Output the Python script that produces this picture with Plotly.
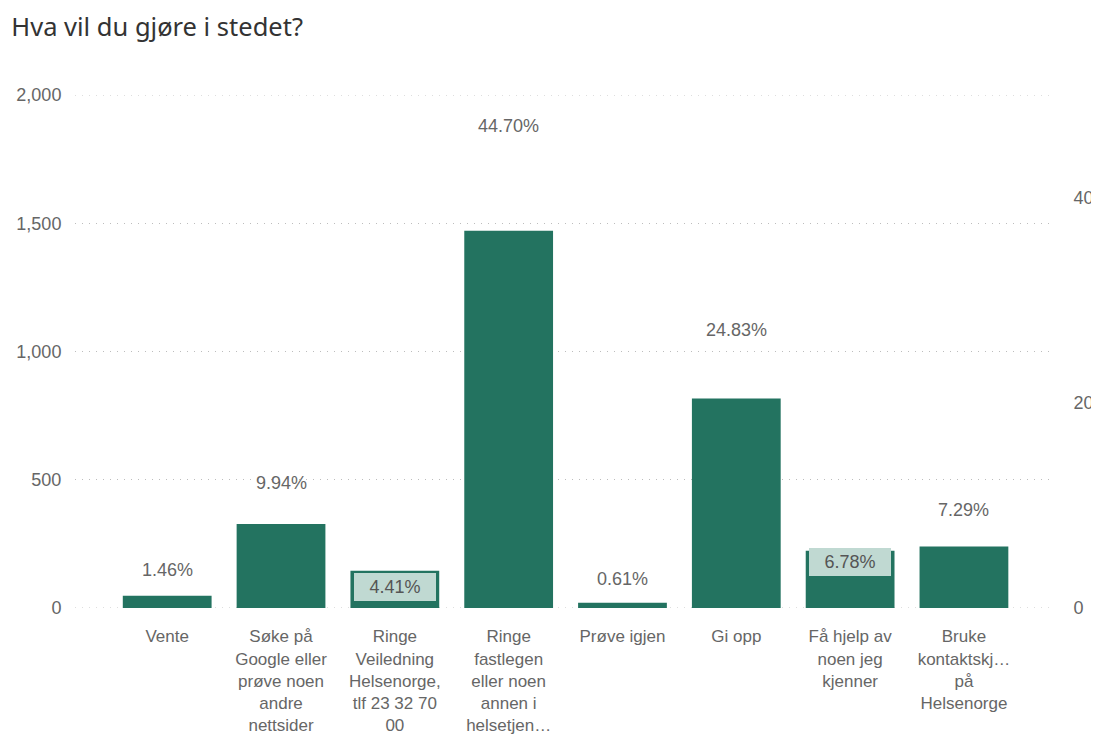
import plotly.graph_objects as go

categories = [
    "Vente",
    "Søke på<br>Google eller<br>prøve noen<br>andre<br>nettsider",
    "Ringe<br>Veiledning<br>Helsenorge,<br>tlf 23 32 70<br>00",
    "Ringe<br>fastlegen<br>eller noen<br>annen i<br>helsetjen…",
    "Prøve igjen",
    "Gi opp",
    "Få hjelp av<br>noen jeg<br>kjenner",
    "Bruke<br>kontaktskj…<br>på<br>Helsenorge",
]
counts = [48, 327, 145, 1471, 20, 817, 223, 240]
percents = [1.46, 9.94, 4.41, 44.70, 0.61, 24.83, 6.78, 7.29]
label_inside = [False, False, True, False, False, False, True, False]
left_ticks = [0, 500, 1000, 1500, 2000]
right_ticks = [0, 20, 40]

bar_color = "#237360"
text_color = "#666666"
grid_color = "#bdbdbd"
font_family = "Liberation Sans, Arial, sans-serif"

xs = list(range(len(categories)))

fig = go.Figure()
fig.add_trace(go.Bar(
    x=xs, y=counts, marker=dict(color=bar_color, line=dict(width=0)),
    width=0.78, hoverinfo="skip", yaxis="y",
))
fig.add_trace(go.Scatter(
    x=xs, y=percents, mode="markers", marker=dict(opacity=0),
    hoverinfo="skip", yaxis="y2", showlegend=False,
))

annotations = []
for x, p, inside in zip(xs, percents, label_inside):
    txt = f"{p:.2f}%"
    if inside:
        annotations.append(dict(
            x=x, y=p, xref="x", yref="y2", text=txt, showarrow=False,
            yshift=-24, font=dict(family=font_family, size=18, color="#555555"),
            bgcolor="#c0d9d2", bordercolor="#c0d9d2", borderwidth=0,
            width=80, height=26, align="center", valign="middle",
        ))
    else:
        annotations.append(dict(
            x=x, y=p, xref="x", yref="y2", text=txt, showarrow=False,
            yshift=23, font=dict(family=font_family, size=18, color=text_color),
        ))

# dotted gridlines at the axis edges (0 and 2000), which plotly omits
shapes = []
for v in (left_ticks[0], left_ticks[-1]):
    shapes.append(dict(
        type="line", xref="paper", yref="y", x0=0, x1=1, y0=v, y1=v,
        line=dict(color=grid_color, width=1, dash="1px,6px"), layer="below",
    ))

fig.update_layout(
    width=1099, height=734,
    margin=dict(l=67, r=52, t=87, b=134, autoexpand=False),
    paper_bgcolor="white", plot_bgcolor="white",
    showlegend=False,
    bargap=0.22,
    title=dict(
        text="Hva vil du gjøre i stedet?", x=0.003, xanchor="left",
        y=0.974, yanchor="middle",
        font=dict(family="Noto Sans, Open Sans, sans-serif", size=25.5, color="#333333"),
    ),
    xaxis=dict(
        tickmode="array", tickvals=xs, ticktext=categories,
        range=[-0.81, 7.8], showgrid=False, zeroline=False, showline=False,
        ticks="outside", ticklen=13, tickcolor="rgba(0,0,0,0)",
        tickfont=dict(family=font_family, size=17, color=text_color),
        tickangle=0, fixedrange=True, automargin=False,
    ),
    yaxis=dict(
        range=[0, 2000], tickvals=left_ticks, tickformat=",",
        showgrid=True, gridcolor=grid_color, griddash="1px,6px", gridwidth=1,
        zeroline=False, showline=False,
        ticks="outside", ticklen=9, tickcolor="rgba(0,0,0,0)",
        tickfont=dict(family=font_family, size=18, color=text_color),
        automargin=False,
    ),
    yaxis2=dict(
        range=[0, 50], tickvals=right_ticks, ticksuffix="%",
        overlaying="y", side="right", showgrid=False, zeroline=False,
        showline=False, ticks="outside", ticklen=14, tickcolor="rgba(0,0,0,0)",
        tickfont=dict(family=font_family, size=18, color=text_color),
        automargin=False,
    ),
    annotations=annotations,
    shapes=shapes,
)

fig.write_html("out.html")
